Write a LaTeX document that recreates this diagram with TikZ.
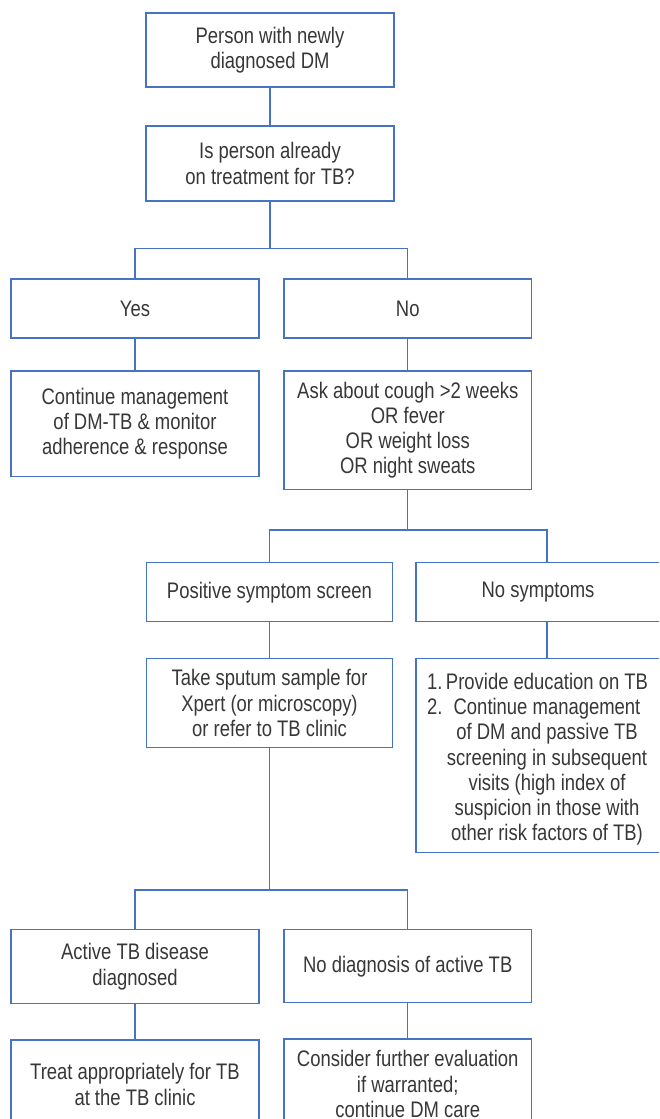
\documentclass[tikz,border=0pt]{standalone}
\usepackage{fontspec}
\usepackage{array}
\setmainfont{Liberation Sans}[FakeStretch=0.82]
\definecolor{lineblue}{RGB}{70,115,195}
\definecolor{textgray}{RGB}{55,55,55}
\begin{document}
\begin{tikzpicture}[x=1pt,y=-1pt,
  box/.style={draw=lineblue, line width=1.4pt, text=textgray, align=center,
    inner sep=0pt, minimum width=248pt, font=\fontsize{22.5}{25.3}\selectfont},
  conn/.style={draw=lineblue, line width=1.4pt}]
\useasboundingbox (0,0) rectangle (659,1119);
\clip (0,0) rectangle (659,1119);
% nodes
\node[box, minimum height=74pt] (b1) at (270,50) {Person with newly\\diagnosed DM};
\node[box, minimum height=75pt] (b2) at (270,163.5) {Is person already\\on treatment for TB?};
\node[box, minimum height=59pt] (yes) at (135,308.5) {Yes};
\node[box, minimum height=59pt, minimum width=247.5pt] (no) at (407.75,308.5) {No};
\node[box, minimum height=105.7pt] (cont) at (135,423.85) {Continue management\\of DM-TB \& monitor\\adherence \& response};
\node[box, minimum height=118.3pt, minimum width=247.5pt] (ask) at (407.75,430.15) {Ask about cough >2 weeks\\OR fever\\OR weight loss\\OR night sweats};
\node[box, minimum height=59pt, minimum width=246pt] (pos) at (269.5,592.2) {Positive symptom screen};
\node[box, minimum height=59pt, minimum width=262pt] (nosym) at (547,592.2) {\hspace*{-18pt}No symptoms};
\node[box, minimum height=89.4pt, minimum width=246pt] (sput) at (269.5,703) {Take sputum sample for\\Xpert (or microscopy)\\or refer to TB clinic};
\node[box, minimum height=194.4pt, minimum width=262pt] (edu) at (547,755.5) {%
  \raisebox{-4.5pt}[\height][\depth]{%
  \begin{tabular}{@{}p{19pt}@{}>{\centering\arraybackslash}p{202pt}@{}p{19pt}@{}}
  1. & Provide education on TB & \\
  2. & Continue management & \\
     & of DM and passive TB & \\
     & screening in subsequent & \\
     & visits (high index of & \\
     & suspicion in those with & \\
     & other risk factors of TB) &
  \end{tabular}}};
\node[box, minimum height=74pt] (act) at (135,966.7) {Active TB disease\\diagnosed};
\node[box, minimum height=73pt, minimum width=247.5pt] (nodiag) at (407.75,966.2) {No diagnosis of active TB};
\node[box, minimum height=89pt] (treat) at (135,1084.5) {Treat appropriately for TB\\at the TB clinic};
\node[box, minimum height=90pt, minimum width=247.5pt] (cons) at (407.75,1084) {Consider further evaluation\\if warranted;\\continue DM care};
% junctions
\coordinate (j1) at (270,248.5);
\coordinate (j2) at (407.75,530);
\coordinate (j3) at (269.5,890);
% connectors
\draw[conn] (b1.south) -- (b2.north);
\draw[conn] (b2.south) -- (j1);
\draw[conn] (yes.north) |- (j1) -| (no.north);
\draw[conn] (yes.south) -- (cont.north);
\draw[conn] (no.south) -- (ask.north);
\draw[conn] (ask.south) -- (j2);
\draw[conn] (pos.north) |- (j2) -| (nosym.north);
\draw[conn] (pos.south) -- (sput.north);
\draw[conn] (nosym.south) -- (edu.north);
\draw[conn] (sput.south) -- (j3);
\draw[conn] (act.north) |- (j3) -| (nodiag.north);
\draw[conn] (act.south) -- (treat.north);
\draw[conn] (nodiag.south) -- (cons.north);
\end{tikzpicture}
\end{document}
